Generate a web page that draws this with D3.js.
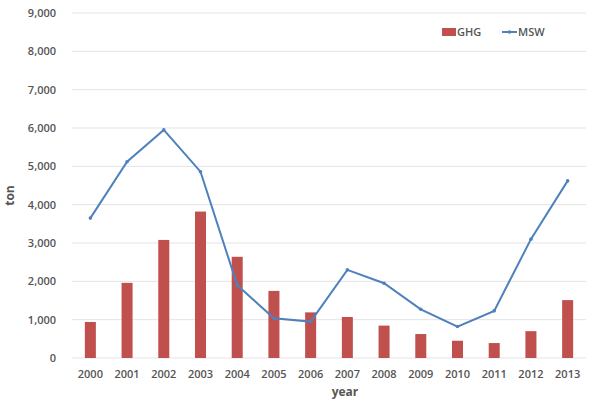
<!DOCTYPE html>
<html lang="en">
<head>
  <meta charset="UTF-8">
  <title>GHG and MSW</title>
  <script src="https://d3js.org/d3.v7.min.js"></script>
  <style>
    body { margin: 0; background: white; }
    text { font-family: "Open Sans", "Liberation Sans", Arial, sans-serif; fill: #555; }
    .tick text { font-size: 11px; font-weight: 600; }
    .grid line { stroke: #e4e4e4; stroke-width: 1px; }
  </style>
</head>
<body>
<svg id="svg"></svg>
<script>
// data
const years = ["2000","2001","2002","2003","2004","2005","2006","2007","2008","2009","2010","2011","2012","2013"];
const ghg = [940, 1960, 3080, 3820, 2640, 1750, 1190, 1070, 845, 625, 450, 390, 700, 1510];
const msw = [3650, 5120, 5950, 4860, 1900, 1035, 950, 2300, 1950, 1270, 820, 1230, 3100, 4620];
const yTicks = [0, 1000, 2000, 3000, 4000, 5000, 6000, 7000, 8000, 9000];

const width = 593, height = 403;
const margin = {left: 72, right: 7, top: 13, bottom: 45};

const svg = d3.select("#svg").attr("width", width).attr("height", height);

const x = d3.scaleBand().domain(years).range([margin.left, width - margin.right]).paddingInner(0.7).paddingOuter(0.35);
const y = d3.scaleLinear().domain([0, 9000]).range([height - margin.bottom, margin.top]);
const fmt = d3.format(",");

// gridlines
svg.append("g").attr("class", "grid")
  .selectAll("line").data(yTicks).join("line")
  .attr("x1", margin.left).attr("x2", width - margin.right)
  .attr("y1", d => y(d)).attr("y2", d => y(d));

// y axis labels
const yAxis = svg.append("g")
  .attr("transform", `translate(${margin.left},0)`)
  .call(d3.axisLeft(y).tickValues(yTicks).tickFormat(d => d == 0 ? "0" : fmt(d)).tickSize(0).tickPadding(16));
yAxis.select(".domain").remove();

// x axis labels
const xAxis = svg.append("g")
  .attr("transform", `translate(0,${y(0)})`)
  .call(d3.axisBottom(x).tickSize(0).tickPadding(12));
xAxis.select(".domain").remove();

// bars
svg.append("g").selectAll("rect").data(years).join("rect")
  .attr("x", (d) => x(d))
  .attr("width", x.bandwidth())
  .attr("y", (d, i) => y(ghg[i]))
  .attr("height", (d, i) => y(0) - y(ghg[i]))
  .attr("fill", "#c0504d");

// line
const line = d3.line().x((d, i) => x(years[i]) + x.bandwidth() / 2).y(d => y(d));
svg.append("path").datum(msw)
  .attr("d", line)
  .attr("fill", "none")
  .attr("stroke", "#4f81bd")
  .attr("stroke-width", 2);
svg.append("g").selectAll("circle").data(msw).join("circle")
  .attr("cx", (d, i) => x(years[i]) + x.bandwidth() / 2)
  .attr("cy", d => y(d))
  .attr("r", 1.8)
  .attr("fill", "#4f81bd");

// axis titles
svg.append("text")
  .attr("transform", `translate(14,${(y(0) + y(9000)) / 2 + 10}) rotate(-90)`)
  .attr("text-anchor", "middle")
  .style("font-size", "12px").style("font-weight", "bold")
  .text("ton");
svg.append("text")
  .attr("x", 345).attr("y", 396)
  .attr("text-anchor", "middle")
  .style("font-size", "12px").style("font-weight", "bold")
  .text("year");

// legend
const lg = svg.append("g").attr("transform", "translate(442,32)");
lg.append("rect").attr("x", 0).attr("y", -4).attr("width", 14).attr("height", 8).attr("fill", "#c0504d");
lg.append("text").attr("x", 15).attr("y", 4).style("font-size", "11px").style("font-weight", 600).text("GHG");
lg.append("line").attr("x1", 60).attr("x2", 75).attr("y1", 0).attr("y2", 0).attr("stroke", "#4f81bd").attr("stroke-width", 2);
lg.append("circle").attr("cx", 67.5).attr("cy", 0).attr("r", 1.8).attr("fill", "#4f81bd");
lg.append("text").attr("x", 76).attr("y", 4).style("font-size", "11px").style("font-weight", 600).text("MSW");
</script>
</body>
</html>
